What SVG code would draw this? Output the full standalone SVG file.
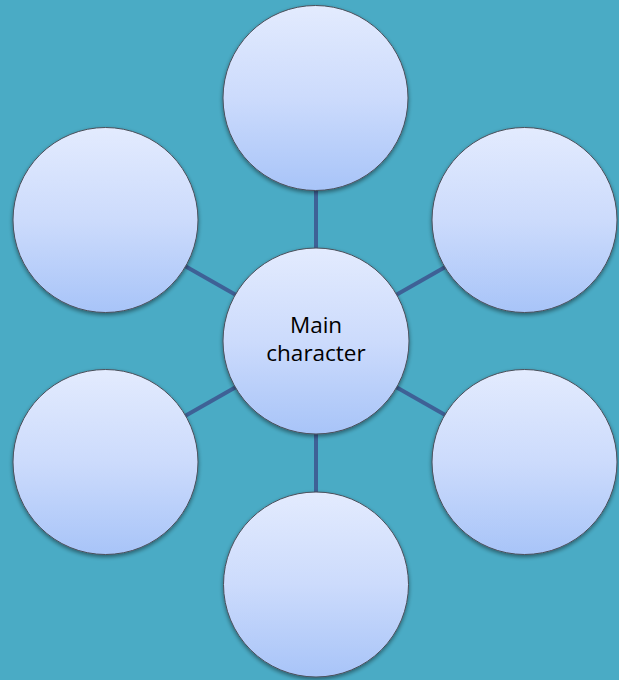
<svg xmlns="http://www.w3.org/2000/svg" width="619" height="680" viewBox="0 0 619 680">
<defs>
<linearGradient id="g" x1="0" y1="0" x2="0" y2="1">
<stop offset="0" stop-color="#E3EBFE"/>
<stop offset="0.5" stop-color="#CCDBFC"/>
<stop offset="1" stop-color="#A8C4F8"/>
</linearGradient>
<filter id="sh" x="-20%" y="-20%" width="140%" height="140%">
<feGaussianBlur in="SourceAlpha" stdDeviation="2"/>
<feOffset dx="0" dy="2" result="b"/>
<feComponentTransfer><feFuncA type="linear" slope="0.45"/></feComponentTransfer>
<feMerge><feMergeNode/><feMergeNode in="SourceGraphic"/></feMerge>
</filter>
</defs>
<style>
.n{fill:url(#g);stroke:#4a4f5a;stroke-width:1;filter:url(#sh)}
.c{stroke:#3E6196;stroke-width:4;fill:none}
.t{font-family:"Open Sans","Liberation Sans",sans-serif;font-size:22.5px;fill:#000;text-anchor:middle}
</style>
<rect width="619" height="680" fill="#4AABC5"/>
<g id="connectors">
<line class="c" x1="316" y1="190" x2="316" y2="250"/>
<line class="c" x1="316" y1="432" x2="316" y2="493"/>
<line class="c" x1="185" y1="266" x2="236" y2="295"/>
<line class="c" x1="447" y1="266" x2="396" y2="295"/>
<line class="c" x1="185" y1="416" x2="236" y2="387"/>
<line class="c" x1="447" y1="416" x2="396" y2="387"/>
</g>
<g id="top"><circle class="n" cx="315.5" cy="98" r="92.5"/></g>
<g id="upper-left"><circle class="n" cx="105.5" cy="220" r="92.5"/></g>
<g id="upper-right"><circle class="n" cx="524.5" cy="220" r="92.5"/></g>
<g id="lower-left"><circle class="n" cx="105.5" cy="462" r="92.5"/></g>
<g id="lower-right"><circle class="n" cx="524.5" cy="462" r="92.5"/></g>
<g id="bottom"><circle class="n" cx="316" cy="584.5" r="92.5"/></g>
<g id="main"><circle class="n" cx="316" cy="341" r="93"/>
<text class="t" x="316" y="333">Main</text>
<text class="t" x="316" y="361">character</text></g>
</svg>
